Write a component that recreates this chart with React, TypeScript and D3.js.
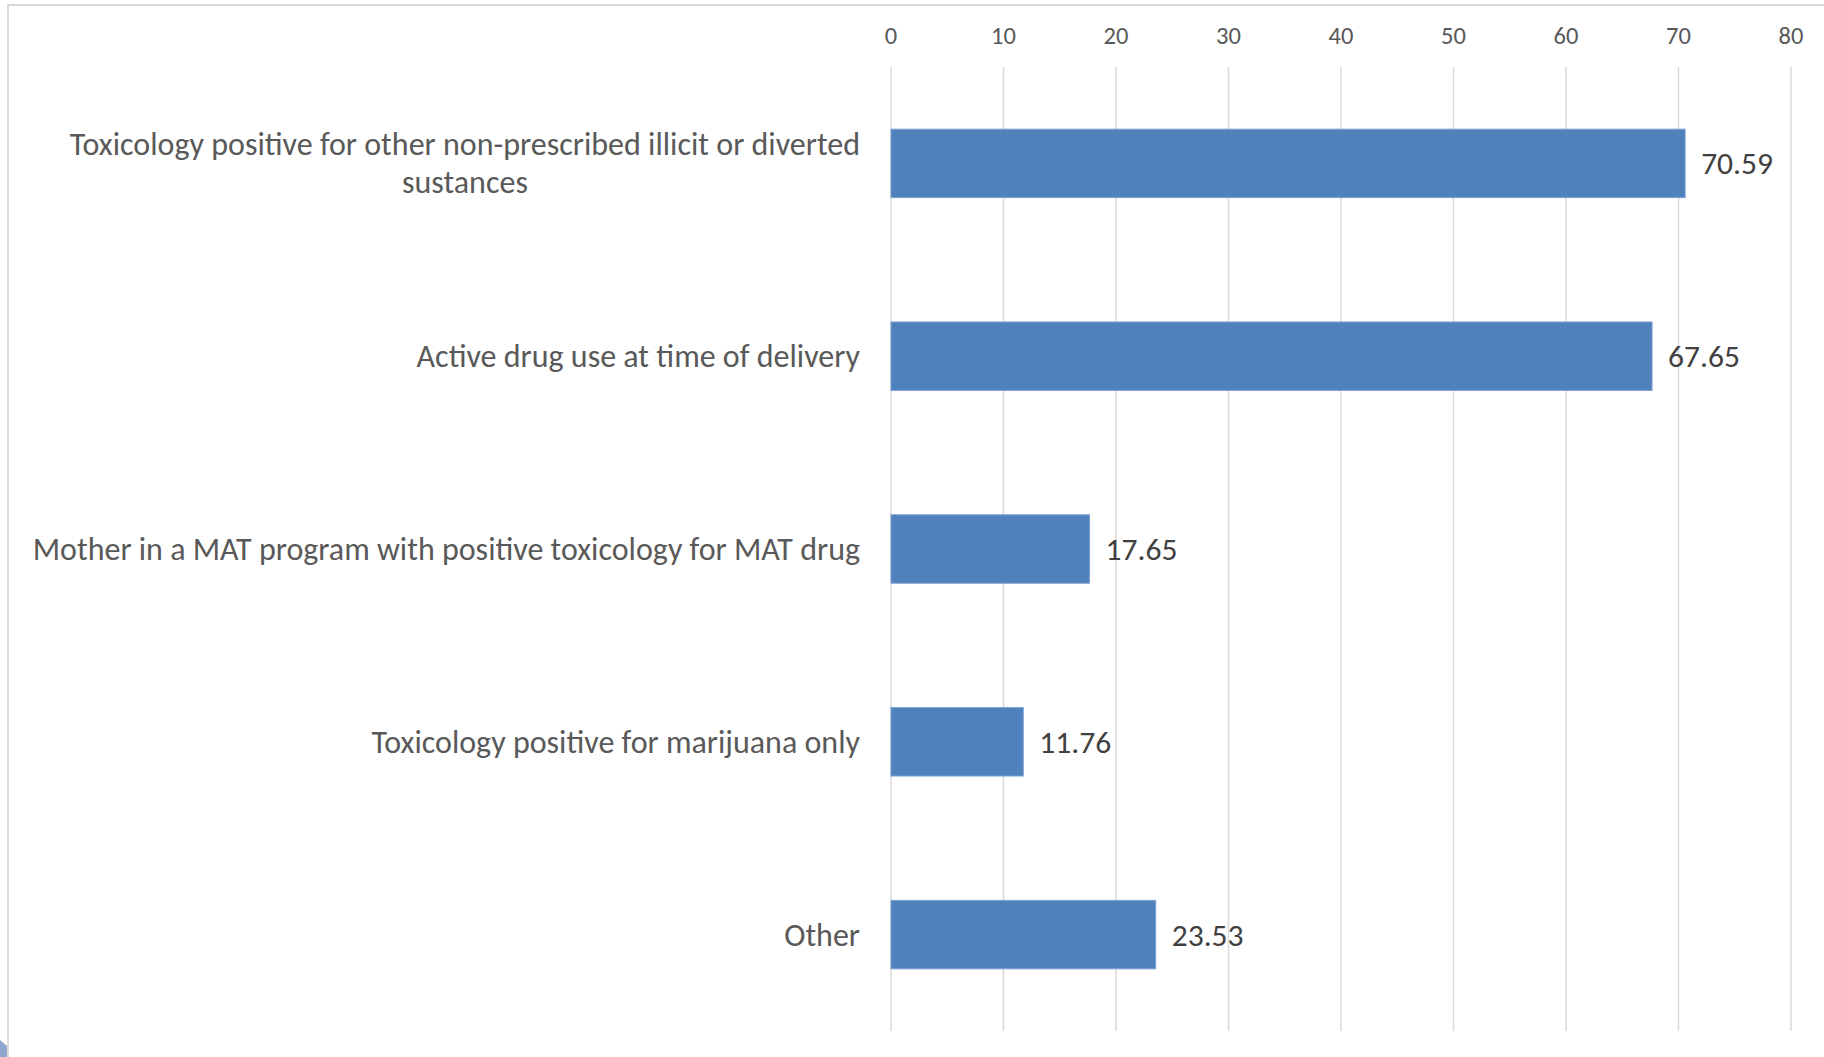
import React, { useEffect, useRef } from "react";
import * as d3 from "d3";

const categories: string[][] = [
  ["Toxicology positive for other non-prescribed illicit or diverted", "sustances"],
  ["Active drug use at time of delivery"],
  ["Mother in a MAT program with positive toxicology for MAT drug"],
  ["Toxicology positive for marijuana only"],
  ["Other"],
];
const values: number[] = [70.59, 67.65, 17.65, 11.76, 23.53];
const ticks: number[] = [0, 10, 20, 30, 40, 50, 60, 70, 80];

const W = 1824;
const H = 1057;
const FONT = "Carlito, Calibri, Lato, 'Open Sans', sans-serif";

export default function App() {
  const ref = useRef<SVGSVGElement | null>(null);

  useEffect(() => {
    document.body.style.margin = "0";
    document.body.style.overflow = "hidden";
    const svg = d3.select(ref.current);
    svg.selectAll("*").remove();

    const x = d3.scaleLinear().domain([0, 80]).range([891, 1791]);
    const keys = categories.map((c) => c.join(" "));
    const y = d3
      .scaleBand<string>()
      .domain(keys)
      .range([67, 1031])
      .paddingInner(0.645)
      .paddingOuter(0.3225);

    svg.append("rect").attr("x", 0).attr("y", 0).attr("width", W).attr("height", H).attr("fill", "#ffffff");

    // frame
    svg.append("line").attr("x1", 7).attr("x2", W).attr("y1", 5).attr("y2", 5)
      .attr("stroke", "#d9d9d9").attr("stroke-width", 2);
    svg.append("line").attr("x1", 8).attr("x2", 8).attr("y1", 4).attr("y2", H)
      .attr("stroke", "#d9d9d9").attr("stroke-width", 2);
    svg.append("path").attr("d", "M0,1040 L7,1046 L7,1057 L0,1057 Z").attr("fill", "#8fa6cf");

    // gridlines
    svg.append("g").selectAll("line").data(ticks).join("line")
      .attr("x1", (d) => x(d)).attr("x2", (d) => x(d))
      .attr("y1", 67).attr("y2", 1031)
      .attr("stroke", "#d9d9d9").attr("stroke-width", 1.5);

    // tick labels
    svg.append("g").selectAll("text").data(ticks).join("text")
      .attr("x", (d) => x(d)).attr("y", 44)
      .attr("text-anchor", "middle")
      .attr("font-family", FONT).attr("font-size", 24.5)
      .attr("fill", "#595959")
      .text((d) => String(d));

    // bars
    svg.append("g").selectAll("rect").data(values).join("rect")
      .attr("x", x(0))
      .attr("y", (_d, i) => y(keys[i]) as number)
      .attr("width", (d) => x(d) - x(0))
      .attr("height", y.bandwidth())
      .attr("fill", "#4f81bd")
      .attr("stroke", "#7ea1d2").attr("stroke-width", 1);

    // value labels
    svg.append("g").selectAll("text").data(values).join("text")
      .attr("x", (d) => x(d) + 16)
      .attr("y", (_d, i) => (y(keys[i]) as number) + y.bandwidth() / 2 + 11)
      .attr("font-family", FONT).attr("font-size", 31.5)
      .attr("fill", "#404040")
      .text((d) => d.toFixed(2));

    // category labels
    const rightEdge = 860;
    const lineH = 38;
    const fs = 32;
    categories.forEach((lines, i) => {
      const cy = (y(keys[i]) as number) + y.bandwidth() / 2;
      const n = lines.length;
      const first = svg.append("text")
        .attr("x", rightEdge)
        .attr("y", cy + 11 - ((n - 1) * lineH) / 2)
        .attr("text-anchor", "end")
        .attr("font-family", FONT).attr("font-size", fs)
        .attr("fill", "#595959")
        .text(lines[0]);
      const w = (first.node() as SVGTextElement).getComputedTextLength();
      for (let k = 1; k < n; k++) {
        svg.append("text")
          .attr("x", rightEdge - w / 2)
          .attr("y", cy + 11 - ((n - 1) * lineH) / 2 + k * lineH)
          .attr("text-anchor", "middle")
          .attr("font-family", FONT).attr("font-size", fs)
          .attr("fill", "#595959")
          .text(lines[k]);
      }
    });
  }, []);

  return (
    <svg
      ref={ref}
      width={W}
      height={H}
      style={{ position: "absolute", left: 0, top: 0, display: "block" }}
    />
  );
}
